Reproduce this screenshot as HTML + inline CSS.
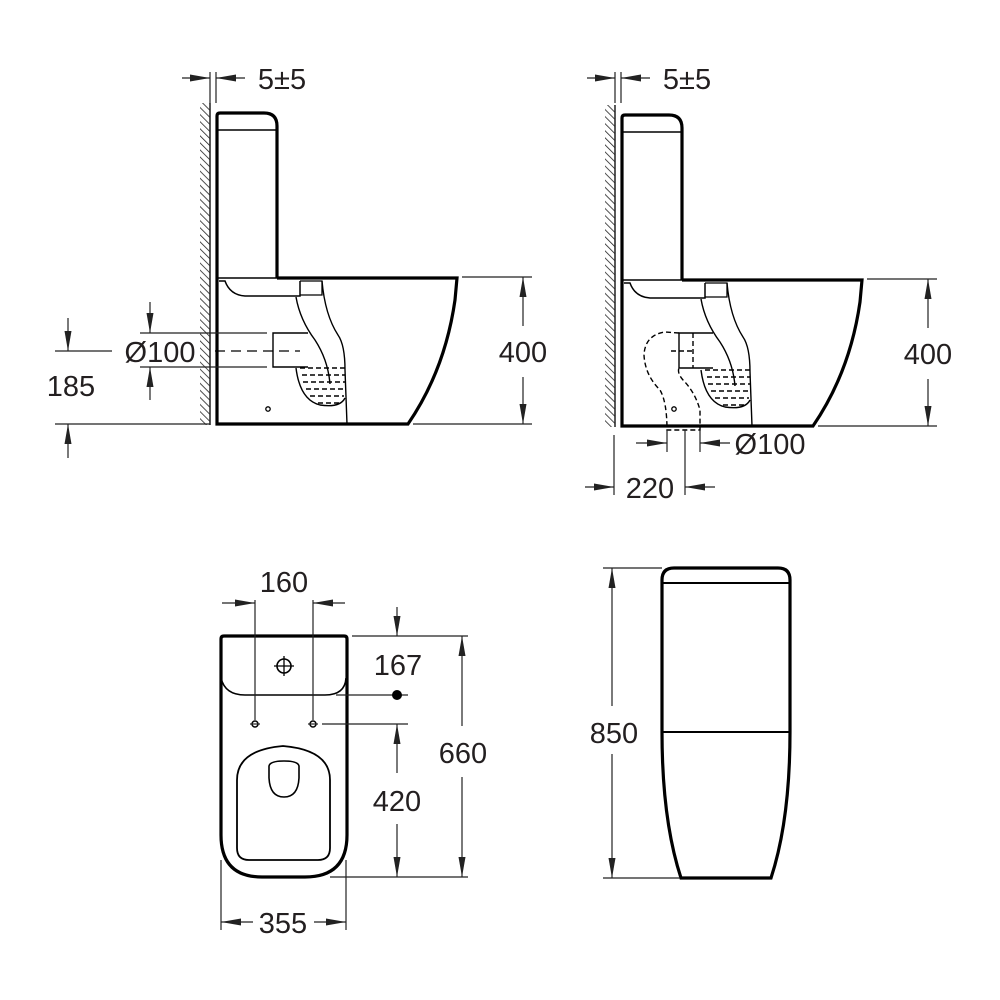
<!DOCTYPE html>
<html><head><meta charset="utf-8"><style>
html,body{margin:0;padding:0;background:#fff;}
svg{display:block;}
text{font-family:"Liberation Sans",Arial,sans-serif;font-size:29px;fill:#231f20;}
</style></head><body>
<svg width="1000" height="1000" viewBox="0 0 1000 1000" xmlns="http://www.w3.org/2000/svg">
<defs>
<pattern id="hatch" width="5" height="5" patternUnits="userSpaceOnUse" patternTransform="rotate(-45)">
<line x1="0" y1="0" x2="0" y2="5" stroke="#222" stroke-width="1.6"/>
</pattern>
<marker id="arL" viewBox="0 0 20 10" refX="20" refY="5" markerWidth="20" markerHeight="10" markerUnits="userSpaceOnUse" orient="auto">
<path d="M0,1.5 L20,5 L0,8.5 Z" fill="#222"/>
</marker>
<g id="body">
<rect x="200" y="103" width="10" height="322" fill="url(#hatch)"/>
<line x1="210" y1="103" x2="210" y2="425" stroke="#222" stroke-width="1.5"/>
<path d="M277,278 L277,126 Q277,113 264,113 L220,113 Q217,113 217,116 L217,424 L408,424 Q445,370 455,300 L457,278 L277,278" fill="none" stroke="#000" stroke-width="3.2"/>
<line x1="217" y1="130" x2="277" y2="130" stroke="#000" stroke-width="1.5"/>
<line x1="217" y1="278" x2="277" y2="278" stroke="#000" stroke-width="1.5"/>
<path d="M219,281 L225,281 Q230,295 245,296 L300,296 L300,281" fill="none" stroke="#000" stroke-width="1.5"/>
<path d="M300,281 L322,281 L322,295 L300,295" fill="none" stroke="#000" stroke-width="1.3"/>
<path d="M296,297 Q300,320 315,340 Q328,360 330,384" fill="none" stroke="#000" stroke-width="1.4"/>
<path d="M322,281 Q325,315 338,335 Q345,345 345,370 L347,424" fill="none" stroke="#000" stroke-width="1.4"/>
<path d="M296,368 Q300,400 320,405 Q340,408 345,398" fill="none" stroke="#000" stroke-width="1.4"/>
<g stroke="#000" stroke-width="1.4" stroke-dasharray="5,3">
<line x1="300" y1="368" x2="345" y2="368"/>
<line x1="302" y1="375" x2="345" y2="375"/>
<line x1="303" y1="382" x2="345" y2="382"/>
<line x1="306" y1="389" x2="345" y2="389"/>
<line x1="310" y1="396" x2="344" y2="396"/>
<line x1="318" y1="403" x2="340" y2="403"/>
</g>
</g>
</defs>

<!-- LEFT SIDE VIEW -->
<use href="#body"/>
<circle cx="268" cy="409" r="2.2" fill="none" stroke="#000" stroke-width="1.3"/>
<path d="M308,333 L273,333 L273,367 L308,367" fill="none" stroke="#000" stroke-width="1.4"/>
<line x1="215" y1="351" x2="300" y2="351" stroke="#000" stroke-width="1.3" stroke-dasharray="10,6"/>
<g stroke="#222" stroke-width="1.2" fill="none">
<line x1="210" y1="72" x2="210" y2="103"/><line x1="216" y1="72" x2="216" y2="103"/>
<line x1="182" y1="78" x2="210" y2="78" marker-end="url(#arL)"/>
<line x1="245" y1="78" x2="216" y2="78" marker-end="url(#arL)"/>
<line x1="140" y1="333" x2="267" y2="333"/><line x1="140" y1="367" x2="267" y2="367"/>
<line x1="150" y1="302" x2="150" y2="333" marker-end="url(#arL)"/>
<line x1="150" y1="400" x2="150" y2="367" marker-end="url(#arL)"/>
<line x1="55" y1="351" x2="112" y2="351"/>
<line x1="55" y1="424" x2="210" y2="424"/>
<line x1="68" y1="318" x2="68" y2="351" marker-end="url(#arL)"/>
<line x1="68" y1="458" x2="68" y2="424" marker-end="url(#arL)"/>
<line x1="462" y1="277" x2="532" y2="277"/><line x1="413" y1="424" x2="532" y2="424"/>
<line x1="523" y1="326" x2="523" y2="277" marker-end="url(#arL)"/>
<line x1="523" y1="377" x2="523" y2="424" marker-end="url(#arL)"/>
</g>
<text x="282" y="89" text-anchor="middle">5±5</text>
<text x="160" y="362" text-anchor="middle">Ø100</text>
<text x="71" y="396" text-anchor="middle">185</text>
<text x="523" y="362" text-anchor="middle">400</text>

<!-- RIGHT SIDE VIEW -->
<g transform="translate(405,2)"><use href="#body"/></g>
<path d="M713,333 L679,333 L679,368 L713,368" fill="none" stroke="#000" stroke-width="1.4"/>
<g stroke="#000" stroke-width="1.4" fill="none" stroke-dasharray="5,3">
<line x1="693" y1="333" x2="693" y2="368"/>
<line x1="671" y1="351" x2="693" y2="351"/>
<path d="M679,333 L665,332 Q645,335 644,355 Q645,375 660,390 Q667,402 667,430 L700,430 L700,410 Q695,392 683,380 Q677,373 679,368"/>
</g>
<circle cx="674" cy="409" r="2.2" fill="none" stroke="#000" stroke-width="1.3"/>
<g stroke="#222" stroke-width="1.2" fill="none">
<line x1="615" y1="72" x2="615" y2="103"/><line x1="621" y1="72" x2="621" y2="103"/>
<line x1="587" y1="78" x2="615" y2="78" marker-end="url(#arL)"/>
<line x1="650" y1="78" x2="621" y2="78" marker-end="url(#arL)"/>
<line x1="867" y1="279" x2="937" y2="279"/><line x1="818" y1="426" x2="937" y2="426"/>
<line x1="928" y1="328" x2="928" y2="279" marker-end="url(#arL)"/>
<line x1="928" y1="379" x2="928" y2="426" marker-end="url(#arL)"/>
<line x1="667" y1="430" x2="667" y2="452"/><line x1="700" y1="430" x2="700" y2="452"/>
<line x1="636" y1="443" x2="667" y2="443" marker-end="url(#arL)"/>
<line x1="730" y1="443" x2="700" y2="443" marker-end="url(#arL)"/>
<line x1="614" y1="435" x2="614" y2="495"/><line x1="685" y1="430" x2="685" y2="495"/>
<line x1="585" y1="487" x2="614" y2="487" marker-end="url(#arL)"/>
<line x1="715" y1="487" x2="685" y2="487" marker-end="url(#arL)"/>
</g>
<text x="687" y="89" text-anchor="middle">5±5</text>
<text x="928" y="364" text-anchor="middle">400</text>
<text x="770" y="454" text-anchor="middle">Ø100</text>
<text x="650" y="498" text-anchor="middle">220</text>

<!-- TOP VIEW -->
<path d="M224,636 L344,636 Q347,636 347,639 L347,835 Q347,877 305,877 L262,877 Q221,877 221,835 L221,639 Q221,636 224,636 Z" fill="none" stroke="#000" stroke-width="3.2"/>
<path d="M221,678 Q225,695 245,695 L325,695 Q345,695 346,678" fill="none" stroke="#000" stroke-width="1.6"/>
<circle cx="284" cy="666" r="7" fill="none" stroke="#000" stroke-width="1.6"/>
<line x1="274" y1="666" x2="294" y2="666" stroke="#000" stroke-width="1.3"/>
<line x1="284" y1="656" x2="284" y2="676" stroke="#000" stroke-width="1.3"/>
<path d="M237,780 Q237,750 283,746 Q330,750 330,780 L330,848 Q330,860 318,860 L249,860 Q237,860 237,848 Z" fill="none" stroke="#000" stroke-width="1.8"/>
<path d="M269,766 Q270,761 284,761 Q298,761 299,766 L299,778 Q298,797 284,797 Q270,797 269,778 Z" fill="none" stroke="#000" stroke-width="1.6"/>
<circle cx="255" cy="724" r="3" fill="none" stroke="#000" stroke-width="1.5"/>
<circle cx="313" cy="724" r="3" fill="none" stroke="#000" stroke-width="1.5"/>
<g stroke="#222" stroke-width="1.2" fill="none">
<line x1="250" y1="724" x2="260" y2="724"/><line x1="308" y1="724" x2="318" y2="724"/>
<line x1="255" y1="600" x2="255" y2="720"/><line x1="313" y1="600" x2="313" y2="720"/>
<line x1="222" y1="603" x2="255" y2="603" marker-end="url(#arL)"/>
<line x1="345" y1="603" x2="313" y2="603" marker-end="url(#arL)"/>
<line x1="352" y1="636" x2="468" y2="636"/>
<line x1="397" y1="607" x2="397" y2="636" marker-end="url(#arL)"/>
<line x1="336" y1="695" x2="408" y2="695"/>
<line x1="322" y1="724" x2="408" y2="724"/>
<line x1="330" y1="877" x2="468" y2="877"/>
<line x1="397" y1="773" x2="397" y2="724" marker-end="url(#arL)"/>
<line x1="397" y1="824" x2="397" y2="877" marker-end="url(#arL)"/>
<line x1="462" y1="726" x2="462" y2="636" marker-end="url(#arL)"/>
<line x1="462" y1="777" x2="462" y2="877" marker-end="url(#arL)"/>
<line x1="221" y1="860" x2="221" y2="930"/><line x1="346" y1="860" x2="346" y2="930"/>
<line x1="253" y1="922" x2="221" y2="922" marker-end="url(#arL)"/>
<line x1="314" y1="922" x2="346" y2="922" marker-end="url(#arL)"/>
</g>
<circle cx="397" cy="695" r="5" fill="#000"/>
<text x="284" y="592" text-anchor="middle">160</text>
<text x="398" y="675" text-anchor="middle">167</text>
<text x="397" y="811" text-anchor="middle">420</text>
<text x="463" y="763" text-anchor="middle">660</text>
<text x="283" y="933" text-anchor="middle">355</text>

<!-- FRONT VIEW -->
<path d="M662,580 Q662,568 674,568 L778,568 Q790,568 790,580 L790,732 Q790,820 771,878 L681,878 Q662,820 662,732 Z" fill="none" stroke="#000" stroke-width="3.2"/>
<line x1="662" y1="583" x2="790" y2="583" stroke="#000" stroke-width="2"/>
<line x1="662" y1="732" x2="790" y2="732" stroke="#000" stroke-width="2"/>
<g stroke="#222" stroke-width="1.2" fill="none">
<line x1="603" y1="568" x2="662" y2="568"/><line x1="603" y1="878" x2="680" y2="878"/>
<line x1="612" y1="706" x2="612" y2="568" marker-end="url(#arL)"/>
<line x1="612" y1="754" x2="612" y2="878" marker-end="url(#arL)"/>
</g>
<text x="614" y="743" text-anchor="middle">850</text>
</svg>
</body></html>
